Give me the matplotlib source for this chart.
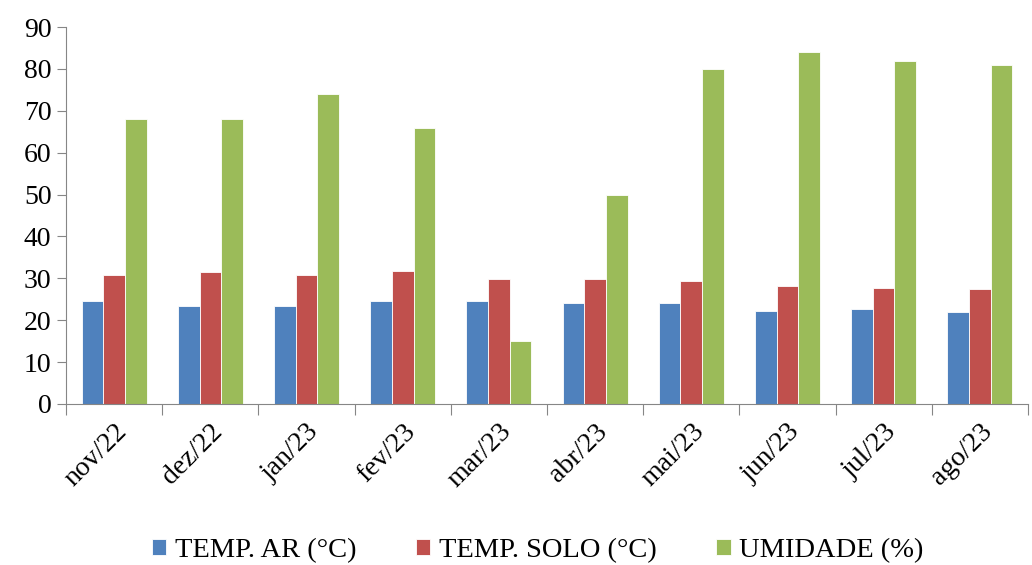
import matplotlib.pyplot as plt
import numpy as np

plt.rcParams['font.family'] = ['Liberation Serif', 'DejaVu Serif']

meses = ['nov/22', 'dez/22', 'jan/23', 'fev/23', 'mar/23',
         'abr/23', 'mai/23', 'jun/23', 'jul/23', 'ago/23']
temp_ar = [24.6, 23.3, 23.3, 24.6, 24.6, 24.0, 24.0, 22.3, 22.6, 21.9]
temp_solo = [30.9, 31.5, 30.9, 31.8, 29.8, 29.8, 29.4, 28.1, 27.7, 27.4]
umidade = [68, 68, 74, 66, 15, 50, 80, 84, 82, 81]

cores = ['#4F81BD', '#C0504D', '#9BBB59']
rotulos = ['TEMP. AR (°C)', 'TEMP. SOLO (°C)', 'UMIDADE (%)']

fig = plt.figure(figsize=(10.32, 5.65), dpi=100)
ax = fig.add_axes([0.064, 0.285, 0.932, 0.667])

x = np.arange(len(meses))
w = 0.225
for i, serie in enumerate([temp_ar, temp_solo, umidade]):
    ax.bar(x + (i - 1) * w, serie, w, color=cores[i], label=rotulos[i],
           edgecolor='white', linewidth=0.6)

ax.set_xlim(-0.5, len(meses) - 0.5)
ax.set_ylim(0, 90)
ax.set_yticks(range(0, 91, 10))

# ticks nas divisas entre categorias, rótulos no centro
ax.set_xticks(np.arange(-0.5, len(meses), 1.0))
ax.set_xticklabels([])
ax.set_xticks(x, minor=True)
ax.set_xticklabels(meses, minor=True, rotation=45, ha='right',
                   rotation_mode='anchor', fontsize=20)
ax.tick_params(axis='x', which='minor', length=0, pad=11)
ax.tick_params(axis='x', which='major', length=8, color='#868686')
ax.tick_params(axis='y', labelsize=20, length=6.5, pad=4, color='#868686')

for s in ['top', 'right']:
    ax.spines[s].set_visible(False)
for s in ['left', 'bottom']:
    ax.spines[s].set_color('#868686')

fig.legend(loc='center', ncol=3, frameon=False, fontsize=20.5,
           bbox_to_anchor=(0.521, 0.025), handlelength=0.5, handleheight=0.5,
           handletextpad=0.3, columnspacing=2.1)

fig.savefig('out.png', dpi=100)
